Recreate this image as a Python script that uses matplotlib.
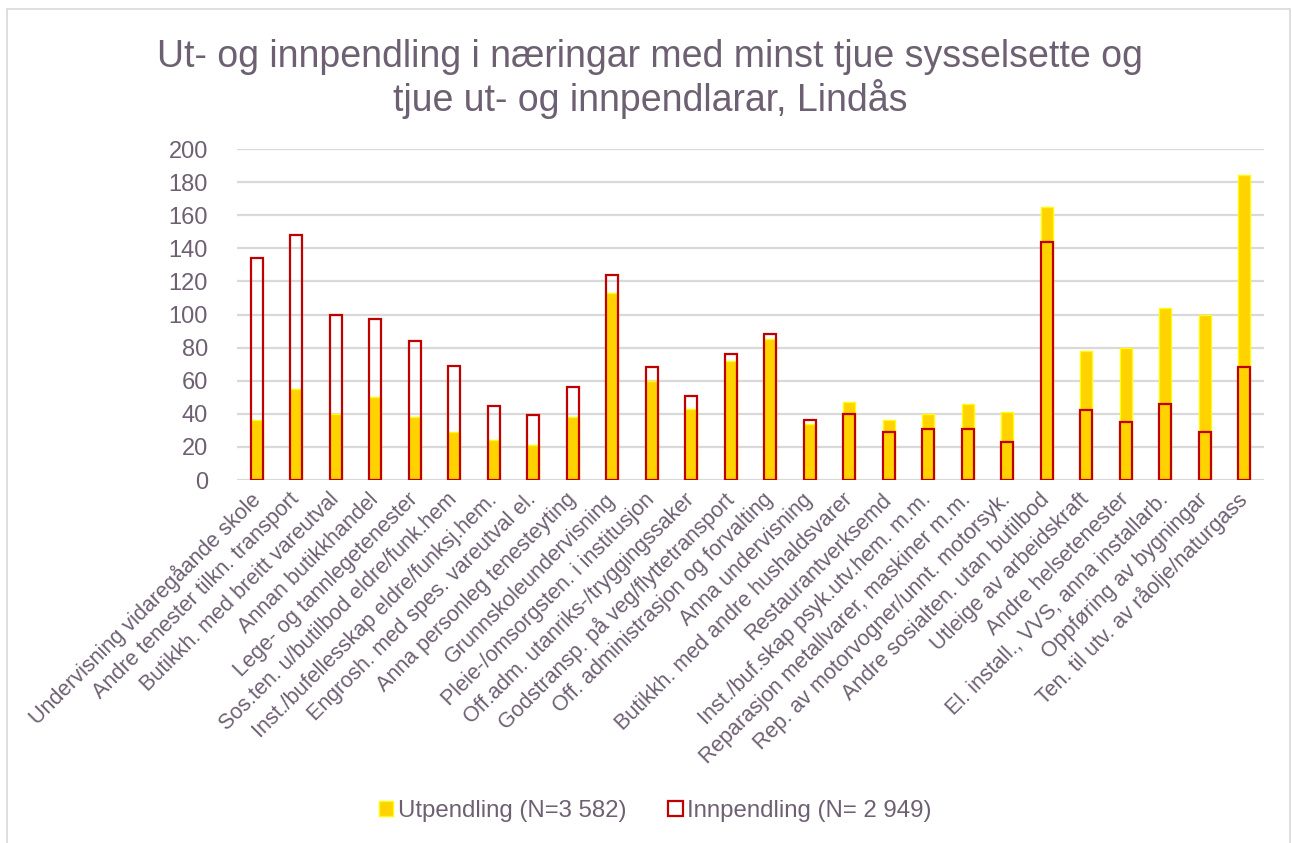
import matplotlib
matplotlib.use("Agg")
import matplotlib.pyplot as plt
from matplotlib.patches import Rectangle, Patch
import numpy as np

plt.rcParams["font.family"] = ["Liberation Sans", "DejaVu Sans"]

# næringar (x-akse)
naeringar = [
    "Undervisning vidaregåande skole", "Andre tenester tilkn. transport",
    "Butikkh. med breitt vareutval", "Annan butikkhandel",
    "Lege- og tannlegetenester", "Sos.ten. u/butilbod eldre/funk.hem",
    "Inst./bufellesskap eldre/funksj.hem.", "Engrosh. med spes. vareutval el.",
    "Anna personleg tenesteyting", "Grunnskoleundervisning",
    "Pleie-/omsorgsten. i institusjon", "Off.adm. utanriks-/tryggingssaker",
    "Godstransp. på veg/flyttetransport", "Off. administrasjon og forvalting",
    "Anna undervisning", "Butikkh. med andre hushaldsvarer",
    "Restaurantverksemd", "Inst./buf.skap psyk.utv.hem. m.m.",
    "Reparasjon metallvarer, maskiner m.m.", "Rep. av motorvogner/unnt. motorsyk.",
    "Andre sosialten. utan butilbod", "Utleige av arbeidskraft",
    "Andre helsetenester", "El. install., VVS, anna installarb.",
    "Oppføring av bygningar", "Ten. til utv. av råolje/naturgass",
]
utpendling = [36, 55, 40, 50, 38, 29, 24, 21, 38, 113, 60, 43, 72,
              85, 34, 47, 36, 40, 46, 41, 165, 78, 80, 104, 100, 184]
innpendling = [134, 148, 100, 97, 84, 69, 45, 39, 56, 124, 68, 51, 76,
               88, 36, 40, 29, 31, 31, 23, 144, 42, 35, 46, 29, 68]
yticks = list(range(0, 201, 20))

label_ut = "Utpendling (N=3 582)"
label_inn = "Innpendling (N= 2 949)"
tittel = "Ut- og innpendling i næringar med minst tjue sysselsette og\ntjue ut- og innpendlarar, Lindås"

TXT = "#6E6073"
GRID = "#D9D9D9"
GOLD = "#FFD200"
YEL = "#FFFF00"
RED = "#C00000"

W, H = 1292, 843
fig = plt.figure(figsize=(W / 100, H / 100), dpi=100)
fig.patches.append(Rectangle((7 / W, -0.05), (1290 - 7) / W, 1.05 - 9 / H,
                             transform=fig.transFigure, fill=False,
                             edgecolor=GRID, linewidth=1.2))

ax = fig.add_axes([237 / W, 1 - 480 / H, 1027 / W, (480 - 149) / H])
x = np.arange(len(naeringar))
bw = 0.31
ax.bar(x, utpendling, width=bw, color=GOLD, edgecolor=YEL, linewidth=1.0, zorder=2)
ax.bar(x, innpendling, width=bw, fill=False, edgecolor=RED, linewidth=1.6, zorder=3)

ax.set_xlim(-0.5, len(naeringar) - 0.5)
ax.set_ylim(0, 200)
ax.set_yticks(yticks)
ax.yaxis.grid(True, color=GRID, linewidth=1.6, zorder=0)
ax.set_axisbelow(True)
for s in ax.spines.values():
    s.set_visible(False)
ax.tick_params(axis="both", length=0, colors=TXT)
ax.tick_params(axis="y", labelsize=17, pad=21)
ax.set_xticks(x)
ax.set_xticklabels(naeringar, rotation=45, ha="right", va="center",
                   rotation_mode="anchor", fontsize=15.5, color=TXT)
ax.tick_params(axis="x", pad=12)

fig.text(0.503, 1 - 79 / H, tittel, ha="center", va="center", fontsize=27,
         color=TXT, linespacing=1.1)

handles = [Patch(facecolor=GOLD, edgecolor=YEL, linewidth=1.0),
           Patch(facecolor="white", edgecolor=RED, linewidth=1.6)]
fig.legend(handles, [label_ut, label_inn], loc="center",
           bbox_to_anchor=(0.507, 1 - 811 / H), ncol=2, frameon=False,
           fontsize=17.3, labelcolor=TXT, handlelength=0.62, handleheight=0.62,
           handletextpad=0.17, columnspacing=1.75)

fig.savefig("out.png", dpi=100)
